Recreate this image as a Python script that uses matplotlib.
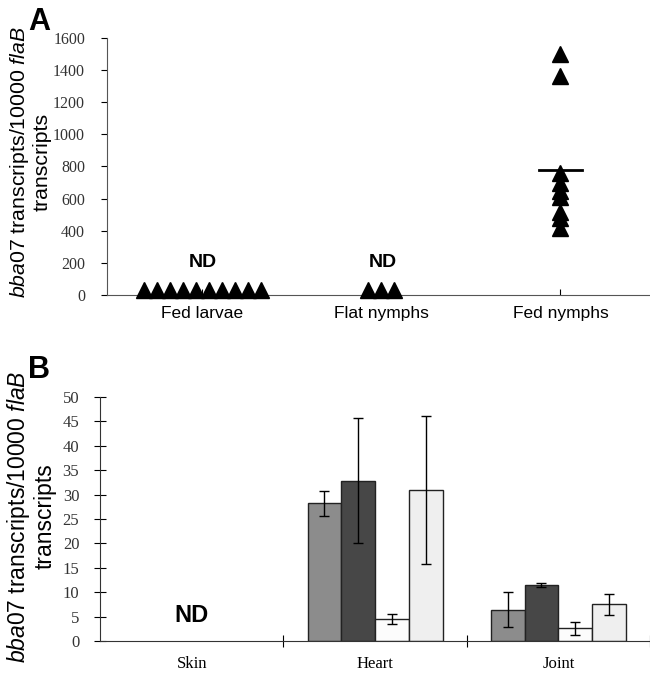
import numpy as np
import matplotlib
matplotlib.use("Agg")
import matplotlib.pyplot as plt

plt.rcParams['font.family'] = 'Liberation Sans'
plt.rcParams['mathtext.fontset'] = 'custom'
plt.rcParams['mathtext.it'] = 'Liberation Sans:italic'
plt.rcParams['mathtext.rm'] = 'Liberation Sans'

# Panel A: transcript levels per tick stage (ND plotted on the baseline)
stages = ['Fed larvae', 'Flat nymphs', 'Fed nymphs']
fed_larvae = [30] * 10
flat_nymphs = [30] * 3
fed_nymphs = [1500, 1360, 760, 700, 650, 610, 520, 480, 420]

# Panel B: mouse tissues, four groups (skin not detected)
tissues = ['Skin', 'Heart', 'Joint']
group_means = [
    [0, 28.2, 6.4],
    [0, 32.8, 11.4],
    [0, 4.5, 2.6],
    [0, 31.0, 7.5],
]
group_errs = [
    [0, 2.6, 3.6],
    [0, 12.8, 0.4],
    [0, 1.1, 1.3],
    [0, 15.2, 2.2],
]
group_colors = ['#8c8c8c', '#474747', '#fcfcfc', '#efefef']

ylab_1 = r"$\it{bba07}$ transcripts/10000 $\it{flaB}$"
ylab_2 = "transcripts"
serif = 'Liberation Serif'


def two_line_ylabel(ax, x1, x2, y, size):
    ax.text(x1, y, ylab_1, transform=ax.transAxes, rotation=90,
            ha='center', va='center', fontsize=size)
    ax.text(x2, y, ylab_2, transform=ax.transAxes, rotation=90,
            ha='center', va='center', fontsize=size)


fig = plt.figure(figsize=(6.5, 6.74), dpi=100)

# ---- A ----
ax1 = fig.add_axes([0.165, 0.562, 0.835, 0.382])
spacing = 0.0726
for k, vals in enumerate([fed_larvae, flat_nymphs, fed_nymphs]):
    n = len(vals)
    if k < 2:
        xs = (k + 1) + (np.arange(n) - (n - 1) / 2) * spacing
    else:
        xs = np.full(n, k + 1.0)
    ax1.plot(xs, vals, '^', color='black', ms=11, clip_on=False, zorder=3)
mean_fn = np.mean(fed_nymphs)
ax1.plot([2.88, 3.12], [mean_fn, mean_fn], color='black', lw=2)
ax1.text(1, 205, 'ND', ha='center', va='center', fontsize=14, fontweight='bold')
ax1.text(2.01, 205, 'ND', ha='center', va='center', fontsize=14, fontweight='bold')

ax1.set_xlim(0.469, 3.5)
ax1.set_ylim(0, 1600)
ax1.set_yticks(range(0, 1601, 200))
ax1.set_xticks([1, 2, 3])
ax1.set_xticklabels(stages, fontsize=12.5)
ax1.tick_params(axis='x', direction='in', length=4, pad=8)
ax1.tick_params(axis='y', direction='out', length=4, labelsize=11.5, pad=12,
                labelcolor='#333333')
for lbl in ax1.get_yticklabels():
    lbl.set_fontfamily(serif)
for s in ['top', 'right']:
    ax1.spines[s].set_visible(False)
for s in ['left', 'bottom']:
    ax1.spines[s].set_color('#555555')
two_line_ylabel(ax1, -0.161, -0.12, 0.517, 15.3)
fig.text(0.043, 0.967, 'A', fontsize=22, fontweight='bold', va='center')

# ---- B ----
ax2 = fig.add_axes([0.154, 0.049, 0.846, 0.362])
centers = np.arange(len(tissues)) + 0.5
width = 0.184
for g in range(4):
    xs = centers + (g - 1.5) * width
    means = np.array(group_means[g])
    errs = np.array(group_errs[g])
    shown = means > 0
    ax2.bar(xs[shown], means[shown], width, color=group_colors[g],
            edgecolor='#222222', linewidth=1)
    ax2.errorbar(xs[shown], means[shown], yerr=errs[shown], fmt='none',
                 ecolor='black', elinewidth=1, capsize=3.5)
ax2.text(0.5, 5.2, 'ND', ha='center', va='center', fontsize=17, fontweight='bold')

ax2.set_xlim(0, 3)
ax2.set_ylim(0, 50)
ax2.set_yticks(range(0, 51, 5))
ax2.set_xticks([1, 2, 3])
ax2.set_xticklabels([])
ax2.set_xticks(centers, minor=True)
ax2.set_xticklabels(tissues, minor=True, fontfamily=serif, fontsize=12)
ax2.tick_params(axis='x', which='major', direction='inout', length=8)
ax2.tick_params(axis='x', which='minor', length=0, pad=11)
ax2.tick_params(axis='y', direction='inout', length=8, labelsize=12, pad=11,
                labelcolor='#333333')
for lbl in ax2.get_yticklabels():
    lbl.set_fontfamily(serif)
for s in ['top', 'right']:
    ax2.spines[s].set_visible(False)
for s in ['left', 'bottom']:
    ax2.spines[s].set_color('#333333')
two_line_ylabel(ax2, -0.149, -0.1, 0.51, 16.5)
fig.text(0.043, 0.451, 'B', fontsize=22, fontweight='bold', va='center')

fig.savefig('out.png', dpi=100)
